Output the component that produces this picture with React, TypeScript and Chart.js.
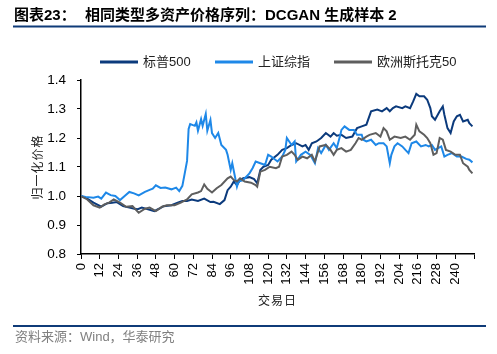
import React, { useEffect, useRef } from "react";
import { Chart, registerables } from "chart.js";

Chart.register(...registerables);

// ---- data ----
const seriesNames = ["标普500", "上证综指", "欧洲斯托克50"];
const xTickValues = [0, 12, 24, 36, 48, 60, 72, 84, 96, 108, 120, 132, 144, 156, 168, 180, 192, 204, 216, 228, 240, 252];
const yTickValues = [0.8, 0.9, 1.0, 1.1, 1.2, 1.3, 1.4];

const spxDays = [0, 4, 8, 13, 17, 20, 23, 27, 31, 36, 39, 43, 47, 50, 53, 58, 62, 65, 68, 71, 75, 79, 83, 85, 89, 92, 94, 96, 98, 100, 102, 104, 108, 111, 113, 115, 117, 120, 122, 126, 129, 132, 135, 138, 142, 144, 146, 148, 151, 154, 157, 160, 162, 164, 167, 170, 174, 177, 180, 183, 186, 190, 193, 196, 198, 200, 202, 206, 208, 211, 213, 215, 217, 220, 222, 224, 225, 227, 230, 232, 233, 235, 237, 239, 241, 243, 245, 248, 249, 251];
const spxVals = [1.0, 0.991, 0.977, 0.963, 0.975, 0.977, 0.979, 0.965, 0.96, 0.954, 0.96, 0.954, 0.948, 0.956, 0.965, 0.968, 0.977, 0.983, 0.983, 0.988, 0.983, 0.991, 0.979, 0.98, 0.972, 0.986, 1.02, 1.032, 1.05, 1.038, 1.055, 1.061, 1.065, 1.058, 1.044, 1.09, 1.101, 1.107, 1.125, 1.142, 1.159, 1.165, 1.176, 1.182, 1.171, 1.176, 1.159, 1.182, 1.188, 1.2, 1.217, 1.205, 1.217, 1.208, 1.211, 1.2, 1.205, 1.234, 1.24, 1.246, 1.292, 1.298, 1.292, 1.303, 1.292, 1.303, 1.309, 1.303, 1.309, 1.303, 1.326, 1.352, 1.344, 1.344, 1.332, 1.303, 1.275, 1.263, 1.292, 1.309, 1.28, 1.234, 1.217, 1.257, 1.275, 1.28, 1.257, 1.263, 1.251, 1.24];

const sseDays = [0, 3, 8, 11, 13, 16, 19, 22, 25, 28, 31, 34, 37, 41, 44, 46, 48, 51, 54, 58, 61, 63, 65, 67, 68, 69, 70, 73, 74, 75, 77, 78, 80, 81, 83, 84, 86, 88, 90, 93, 94, 96, 97, 100, 101, 104, 108, 110, 112, 115, 118, 120, 122, 126, 129, 131, 132, 135, 137, 138, 141, 144, 147, 150, 152, 154, 157, 159, 162, 164, 166, 167, 169, 172, 175, 177, 180, 181, 183, 186, 189, 191, 194, 196, 198, 199, 201, 203, 206, 208, 210, 212, 215, 218, 221, 223, 225, 227, 229, 231, 233, 235, 238, 241, 244, 247, 249, 251];
const sseVals = [1.0, 0.997, 0.994, 0.998, 0.991, 1.012, 1.003, 1.0, 0.986, 1.0, 1.014, 1.009, 1.002, 1.014, 1.021, 1.025, 1.037, 1.028, 1.029, 1.023, 1.029, 1.017, 1.035, 1.092, 1.121, 1.231, 1.248, 1.242, 1.254, 1.225, 1.265, 1.242, 1.283, 1.225, 1.262, 1.217, 1.2, 1.217, 1.176, 1.159, 1.142, 1.09, 1.113, 1.032, 1.05, 1.055, 1.078, 1.096, 1.119, 1.113, 1.107, 1.142, 1.136, 1.119, 1.136, 1.159, 1.2, 1.176, 1.188, 1.119, 1.142, 1.153, 1.142, 1.113, 1.165, 1.148, 1.176, 1.159, 1.182, 1.165, 1.205, 1.228, 1.24, 1.228, 1.228, 1.211, 1.211, 1.194, 1.188, 1.194, 1.176, 1.182, 1.182, 1.171, 1.113, 1.142, 1.171, 1.182, 1.171, 1.159, 1.148, 1.182, 1.188, 1.171, 1.176, 1.171, 1.176, 1.159, 1.165, 1.171, 1.136, 1.142, 1.148, 1.136, 1.136, 1.128, 1.125, 1.116];

const stoxxDays = [0, 4, 8, 12, 15, 18, 21, 25, 29, 33, 37, 41, 44, 48, 52, 55, 60, 64, 68, 71, 75, 77, 79, 81, 84, 87, 90, 94, 96, 98, 100, 102, 105, 109, 112, 113, 115, 118, 121, 125, 127, 129, 132, 135, 137, 139, 142, 145, 148, 150, 153, 157, 160, 162, 164, 167, 170, 173, 176, 178, 180, 183, 185, 189, 192, 194, 196, 198, 201, 205, 208, 211, 214, 215, 217, 220, 222, 224, 226, 228, 230, 232, 234, 237, 240, 243, 245, 248, 249, 251];
const stoxxVals = [1.0, 0.988, 0.968, 0.96, 0.971, 0.977, 0.988, 0.977, 0.963, 0.965, 0.942, 0.956, 0.96, 0.948, 0.963, 0.968, 0.968, 0.977, 0.988, 1.006, 1.012, 1.017, 1.04, 1.025, 1.012, 1.027, 1.038, 1.061, 1.067, 1.055, 1.05, 1.061, 1.05, 1.046, 1.038, 1.032, 1.084, 1.09, 1.101, 1.096, 1.101, 1.136, 1.142, 1.153, 1.142, 1.125, 1.136, 1.13, 1.142, 1.119, 1.171, 1.176, 1.159, 1.142, 1.159, 1.165, 1.153, 1.159, 1.182, 1.2, 1.194, 1.205, 1.211, 1.217, 1.205, 1.234, 1.223, 1.194, 1.205, 1.2, 1.205, 1.194, 1.211, 1.246, 1.223, 1.211, 1.2, 1.182, 1.142, 1.148, 1.2, 1.194, 1.159, 1.153, 1.142, 1.142, 1.113, 1.101, 1.09, 1.078];

const colors = ["#0B3A7C", "#1E88E8", "#5E5E5E"];
const ruleColor = "#0F3B78";

const toPoints = (days: number[], vals: number[]) => days.map((d, i) => ({ x: d, y: vals[i] }));

const decorPlugin = {
  id: "decor",
  afterDraw(chart: any) {
    const ctx = chart.ctx as CanvasRenderingContext2D;
    const area = chart.chartArea;
    ctx.save();
    // Title
    ctx.fillStyle = "#000";
    ctx.textBaseline = "middle";
    ctx.textAlign = "left";
    ctx.font = "bold 15px 'Liberation Sans', 'Noto Sans CJK SC'";
    ctx.fillText("图表23：", 14, 16);
    ctx.fillText("相同类型多资产价格序列：DCGAN 生成样本 2", 85, 16);
    // Rules
    ctx.fillStyle = ruleColor;
    ctx.fillRect(13, 25.5, 473, 2);
    ctx.fillRect(13, 325, 473, 2);
    // Legend
    const legendItems = [
      { x1: 100, x2: 138, tx: 143 },
      { x1: 215, x2: 253, tx: 258 },
      { x1: 334, x2: 372, tx: 377 },
    ];
    ctx.font = "13px 'Liberation Sans', 'Noto Sans CJK SC'";
    legendItems.forEach((it, i) => {
      ctx.strokeStyle = colors[i];
      ctx.lineWidth = 3;
      ctx.beginPath();
      ctx.moveTo(it.x1, 62);
      ctx.lineTo(it.x2, 62);
      ctx.stroke();
      ctx.fillStyle = "#222";
      ctx.fillText(seriesNames[i], it.tx, 62);
    });
    // Axis titles
    ctx.fillStyle = "#222";
    ctx.font = "12px 'Noto Sans CJK SC'";
    (ctx as any).letterSpacing = "1px";
    ctx.textAlign = "center";
    ctx.fillText("交易日", (area.left + area.right) / 2, 300);
    ctx.save();
    ctx.translate(37, (area.top + area.bottom) / 2);
    ctx.rotate(-Math.PI / 2);
    ctx.fillText("归一化价格", 0, 0);
    ctx.restore();
    (ctx as any).letterSpacing = "0px";
    // Footer
    ctx.textAlign = "left";
    ctx.fillStyle = "#808080";
    ctx.font = "13px 'Liberation Sans', 'Noto Sans CJK SC'";
    ctx.fillText("资料来源：Wind，华泰研究", 15, 337.5);
    ctx.restore();
  },
};

export default function App() {
  const canvasRef = useRef<HTMLCanvasElement | null>(null);

  useEffect(() => {
    if (!canvasRef.current) return;
    const data = [toPoints(spxDays, spxVals), toPoints(sseDays, sseVals), toPoints(stoxxDays, stoxxVals)];
    const chart = new Chart(canvasRef.current, {
      type: "line",
      data: {
        datasets: data.map((d, i) => ({
          label: seriesNames[i],
          data: d,
          borderColor: colors[i],
          backgroundColor: colors[i],
          borderWidth: 2,
          pointRadius: 0,
          tension: 0,
          fill: false,
          order: 3 - i,
        })),
      },
      options: {
        responsive: false,
        animation: false,
        devicePixelRatio: 1,
        layout: { padding: { left: 0, right: 23, top: 80, bottom: 0 } },
        plugins: { legend: { display: false }, title: { display: false }, tooltip: { enabled: false } },
        scales: {
          x: {
            type: "linear",
            min: 0,
            max: 252,
            afterBuildTicks: (scale: any) => {
              scale.ticks = xTickValues.map((v) => ({ value: v }));
            },
            afterFit: (scale: any) => {
              scale.height = 100;
            },
            ticks: {
              autoSkip: false,
              maxRotation: 90,
              minRotation: 90,
              padding: 4,
              color: "#000",
              font: { family: "'Liberation Sans', Arial", size: 13 },
              callback: (v: any) => (Number(v) <= 240 ? String(v) : ""),
            },
            grid: { drawOnChartArea: false, drawTicks: true, tickLength: 5, color: "#000", lineWidth: 1 },
            border: { display: true, color: "#000", width: 1.5 },
          },
          y: {
            min: 0.8,
            max: 1.4,
            afterBuildTicks: (scale: any) => {
              scale.ticks = yTickValues.map((v) => ({ value: v }));
            },
            afterFit: (scale: any) => {
              scale.width = 81;
            },
            ticks: {
              padding: 11,
              color: "#000",
              font: { family: "'Liberation Sans', Arial", size: 13.5 },
              callback: (v: any) => Number(v).toFixed(1),
            },
            grid: { drawOnChartArea: false, drawTicks: true, tickLength: 4, color: "#000", lineWidth: 1 },
            border: { display: true, color: "#000", width: 1.5 },
          },
        },
      },
      plugins: [decorPlugin],
    });
    return () => chart.destroy();
  }, []);

  return (
    <div style={{ position: "absolute", left: 0, top: 0, width: 497, height: 354, background: "#fff" }}>
      <canvas ref={canvasRef} width={497} height={354} style={{ width: 497, height: 354, display: "block" }} />
    </div>
  );
}
